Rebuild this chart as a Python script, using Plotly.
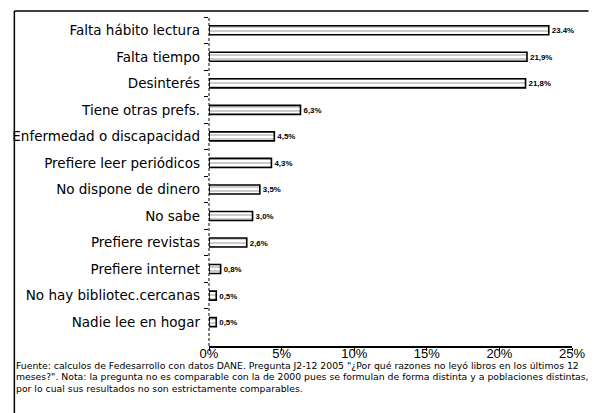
import plotly.graph_objects as go

# razones para no leer libros (2005)
categorias = [
    "Falta hábito lectura",
    "Falta tiempo",
    "Desinterés",
    "Tiene otras prefs.",
    "Enfermedad o discapacidad",
    "Prefiere leer periódicos",
    "No dispone de dinero",
    "No sabe",
    "Prefiere revistas",
    "Prefiere internet",
    "No hay bibliotec.cercanas",
    "Nadie lee en hogar",
]
valores = [23.4, 21.9, 21.8, 6.3, 4.5, 4.3, 3.5, 3.0, 2.6, 0.8, 0.5, 0.5]
etiquetas = ["23.4%", "21,9%", "21,8%", "6,3%", "4,5%", "4,3%", "3,5%",
             "3,0%", "2,6%", "0,8%", "0,5%", "0,5%"]
ticks_x = [0, 5, 10, 15, 20, 25]
ticks_txt = ["0%", "5%", "10%", "15%", "20%", "25%"]

nota = [
    "Fuente: calculos de Fedesarrollo con datos DANE. Pregunta J2-12 2005 \"¿Por qué razones no leyó libros en los últimos 12",
    "meses?\". Nota: la pregunta no es comparable con la de 2000 pues se formulan de forma distinta y a poblaciones distintas,",
    "por lo cual sus resultados no son estrictamente comparables.",
]

fig = go.Figure()
fig.add_trace(go.Bar(
    x=valores,
    y=categorias,
    orientation="h",
    width=0.34,
    marker=dict(
        color="white",
        line=dict(color="black", width=1.6),
        pattern=dict(shape="-", fgcolor="#333333", bgcolor="white", size=4, solidity=0.25),
    ),
    text=etiquetas,
    textposition="outside",
    cliponaxis=False,
    textfont=dict(family="Liberation Sans", size=10.5, color="black", weight="bold"),
))

# margenes en pixeles del area de dibujo
L, R, T, B = 207, 17, 17, 67
W, H = 597, 413
pw, ph = W - L - R, H - T - B

def px_x(p):
    return (p - L) / pw

def px_y(p):
    return 1 - (p - T) / ph

# marco exterior (arriba e izquierda)
fig.add_shape(type="line", xref="paper", yref="paper",
              x0=px_x(7), x1=px_x(597), y0=px_y(11), y1=px_y(11),
              line=dict(color="black", width=1.5))
fig.add_shape(type="line", xref="paper", yref="paper",
              x0=px_x(7), x1=px_x(7), y0=px_y(11), y1=px_y(413),
              line=dict(color="black", width=1.5))
# eje vertical punteado
fig.add_shape(type="line", xref="paper", yref="paper",
              x0=0, x1=0, y0=0, y1=1,
              line=dict(color="black", width=1, dash="3px,2px"))

for i, linea in enumerate(nota):
    fig.add_annotation(
        x=px_x(7), y=px_y(365 + i * 11.8), xref="paper", yref="paper",
        text=linea, showarrow=False, xanchor="left", yanchor="middle",
        font=dict(family="DejaVu Sans", size=9.3, color="black"),
    )

fig.update_layout(
    width=W, height=H,
    margin=dict(l=L, r=R, t=T, b=B),
    paper_bgcolor="white", plot_bgcolor="white",
    showlegend=False,
    font=dict(family="Liberation Sans", color="black"),
    xaxis=dict(
        range=[0, 25], tickvals=ticks_x, ticktext=ticks_txt,
        showgrid=False, zeroline=False, showline=True, linecolor="black", linewidth=1.5,
        ticks="outside", ticklen=3, tickcolor="black",
        ticklabelstandoff=-8,
        tickfont=dict(size=13, family="Liberation Sans"),
    ),
    yaxis=dict(
        range=[11.9, -0.5], showgrid=False, zeroline=False, showline=False,
        ticks="outside", ticklen=4, tickson="boundaries", tickcolor="black",
        ticklabelstandoff=8,
        tickfont=dict(size=13.5, family="DejaVu Sans"),
    ),
)

fig.write_html("out.html", config={"displayModeBar": False},
               post_script="document.body.style.margin='0';")
